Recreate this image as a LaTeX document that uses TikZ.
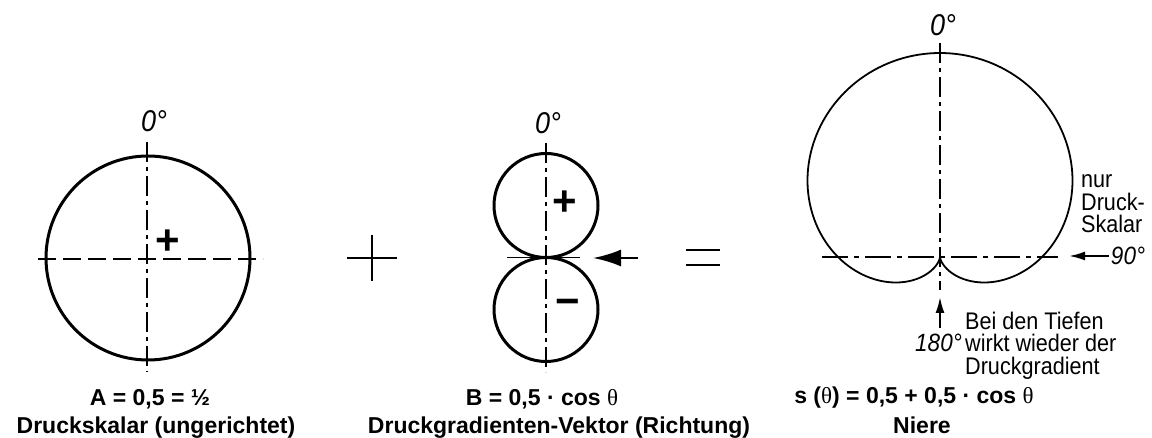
\documentclass[tikz,border=0pt]{standalone}
\usepackage{fontspec}
\setmainfont{Liberation Sans}
\newfontfamily\condfont[FakeStretch=0.9]{Liberation Sans}
\newfontfamily\degfont[FakeStretch=0.9]{Liberation Sans}
\newfontfamily\thetafont{Liberation Serif}
\usetikzlibrary{arrows.meta}
\newcommand{\thet}{{\thetafont\mdseries θ}}
\tikzset{
  axisline/.style={line width=1.3pt},
  centerline/.style={axisline, dash pattern=on 20pt off 5pt on 4pt off 5pt},
  dashline/.style={axisline, dash pattern=on 18pt off 7pt},
  boldcurve/.style={line width=3pt},
  thincurve/.style={line width=1.8pt},
  operator/.style={line width=2.6pt},
  caption/.style={font=\fontsize{23}{27}\selectfont\bfseries, inner sep=0pt, anchor=base},
  deg/.style={font=\fontsize{30}{30}\selectfont\degfont\itshape, inner sep=0pt},
  smalldeg/.style={font=\fontsize{25}{25}\selectfont\degfont\itshape, inner sep=0pt},
  note/.style={font=\fontsize{24}{22.5}\selectfont\condfont, inner sep=0pt, align=left, anchor=base west},
  sign/.style={font=\fontsize{42}{42}\selectfont\bfseries, inner sep=0pt},
  pointer/.style={line width=2pt, -{Latex[length=16pt,width=9pt]}},
  bigpointer/.style={line width=2.5pt, -{Latex[length=28pt,width=17pt]}},
}
\begin{document}
\begin{tikzpicture}[x=1pt,y=-1pt]
\useasboundingbox (0,0) rectangle (1152,438);

% ---------- Figure 1: pressure scalar ----------
\coordinate (c1) at (148,258);
\draw[boldcurve] (c1) circle[radius=102];
\draw[dashline] (38,259) -- (263,259);
\draw[centerline] (147,142) -- (147,372);
\node[deg] (z1) at (154,121) {0°};
\node[sign] (p1) at (168,242) {+};
\node[caption] (la1) at (150,406) {A = 0,5 = ½};
\node[caption] (la2) at (156,434) {Druckskalar (ungerichtet)};

% ---------- plus operator ----------
\draw[operator] (347,258) -- (397,258);
\draw[operator] (372,235) -- (372,281);

% ---------- Figure 2: figure of eight ----------
\coordinate (c2a) at (546,205.5);
\coordinate (c2b) at (546,309.5);
\draw[boldcurve] (c2a) circle[radius=52];
\draw[boldcurve] (c2b) circle[radius=52];
\draw[axisline] (507,257.5) -- (580,257.5);
\draw[centerline] (546,143) -- (546,372);
\node[deg] (z2) at (548,123) {0°};
\node[sign] (p2) at (565,203) {+};
\node[sign] (m2) at (568,307) {−};
\coordinate (a2tail) at (638,258);
\coordinate (a2tip) at (593,258);
\draw[bigpointer] (a2tail) -- (a2tip);
\node[caption] (lb1) at (542,406) {B = 0,5 · cos \thet};
\node[caption] (lb2) at (559,434) {Druckgradienten-Vektor (Richtung)};

% ---------- equals operator ----------
\draw[operator] (686,250) -- (720,250);
\draw[operator] (686,265) -- (720,265);

% ---------- Figure 3: cardioid ----------
\coordinate (c3) at (940,257);
\draw[thincurve] plot[domain=0:360,samples=241]
  ({940+102*(1+cos(\x))*sin(\x)},{257-102*(1+cos(\x))*cos(\x)}) -- cycle;
\draw[centerline] (940,43) -- (940,290);
\draw[centerline, dash pattern=on 26pt off 6pt on 5pt off 6pt] (822,257) -- (1058,257);
\node[deg] (z3) at (943,25) {0°};
\node[smalldeg] (n90) at (1128,256) {90°};
\coordinate (a3tip) at (1069,256);
\draw[pointer] ([xshift=-2pt]n90.west) -- (a3tip);
\node[note] (nur) at (1081,233) {nur\\Druck-\\Skalar};
\coordinate (a4tail) at (940,328);
\coordinate (a4tip) at (940,297);
\draw[pointer] (a4tail) -- (a4tip);
\node[smalldeg, anchor=base] (n180) at (938.5,352) {180°};
\node[note] (bei) at (965,374) {Bei den Tiefen\\wirkt wieder der\\Druckgradient};
\node[caption] (ls1) at (914,404) {s (\thet) = 0,5 + 0,5 · cos \thet};
\node[caption] (ls2) at (922,433) {Niere};
\end{tikzpicture}
\end{document}
